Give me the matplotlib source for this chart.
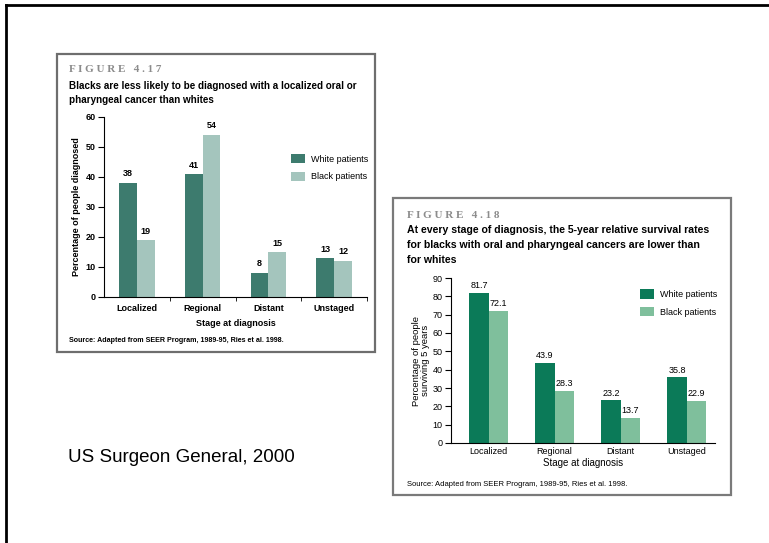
import numpy as np
import matplotlib.pyplot as plt
from matplotlib.patches import Rectangle
from matplotlib.lines import Line2D

# data
stages = ['Localized', 'Regional', 'Distant', 'Unstaged']
diag_white = [38, 41, 8, 13]
diag_black = [19, 54, 15, 12]
diag_white_lbl = ['38', '41', '8', '13']
diag_black_lbl = ['19', '54', '15', '12']
surv_white = [81.7, 43.9, 23.2, 35.8]
surv_black = [72.1, 28.3, 13.7, 22.9]

W, H = 769, 543
fig = plt.figure(figsize=(W / 100, H / 100), dpi=100)

narrow = ['Liberation Sans', 'DejaVu Sans']


def fx(x):
    return x / W


def fy(y):
    return 1 - y / H


def box(x0, y0, x1, y1, color, lw):
    fig.add_artist(Rectangle((fx(x0), fy(y1)), fx(x1) - fx(x0), fy(y0) - fy(y1),
                             transform=fig.transFigure, fill=False,
                             edgecolor=color, linewidth=lw))


# slide frame
fig.add_artist(Line2D([fx(6), fx(769)], [fy(5), fy(5)], transform=fig.transFigure,
                      color='black', lw=2))
fig.add_artist(Line2D([fx(6), fx(6)], [fy(5), fy(543)], transform=fig.transFigure,
                      color='black', lw=2))

# figure boxes
box(57, 54, 375, 352, '#6e6e6e', 1.6)
box(393, 198, 731, 495, '#7a7a7a', 1.6)


def make_axes(left, top, right, bottom):
    ax = fig.add_axes([fx(left), fy(bottom), fx(right) - fx(left), fy(top) - fy(bottom)])
    ax.spines['top'].set_visible(False)
    ax.spines['right'].set_visible(False)
    ax.patch.set_alpha(0)
    return ax


# ---- FIGURE 4.17 ----
fig.text(fx(69), fy(70), 'F I G U R E   4 . 1 7', family='Liberation Serif', weight='bold',
         color='#8c8c8c', fontsize=8, va='center')
fig.text(fx(69), fy(86), 'Blacks are less likely to be diagnosed with a localized oral or',
         family=narrow, weight='bold', fontsize=7.1, va='center')
fig.text(fx(69), fy(100), 'pharyngeal cancer than whites',
         family=narrow, weight='bold', fontsize=7.1, va='center')

ax1 = make_axes(104, 117, 367, 297)
x = np.arange(len(stages))
w1 = 0.27
b1 = ax1.bar(x - w1 / 2, diag_white, w1, color='#3d7b6e', label='White patients')
b2 = ax1.bar(x + w1 / 2, diag_black, w1, color='#a4c5bd', label='Black patients')
for r, t in zip(b1, diag_white_lbl):
    ax1.text(r.get_x() + r.get_width() / 2, r.get_height() + 1.5, t, ha='center',
             va='bottom', family=narrow, fontsize=6.5, weight='bold')
for r, t in zip(b2, diag_black_lbl):
    ax1.text(r.get_x() + r.get_width() / 2, r.get_height() + 1.5, t, ha='center',
             va='bottom', family=narrow, fontsize=6.5, weight='bold')
ax1.set_xlim(-0.5, 3.5)
ax1.set_ylim(0, 60)
ax1.set_yticks(range(0, 61, 10))
ax1.set_xticks(x)
ax1.set_xticklabels(stages)
ax1.set_xticks([0.5, 1.5, 2.5, 3.5], minor=True)
ax1.tick_params(axis='x', which='major', length=0, pad=5)
ax1.tick_params(axis='x', which='minor', length=3)
ax1.tick_params(axis='y', length=4, pad=2)
for lab in ax1.get_xticklabels() + ax1.get_yticklabels():
    lab.set_family(narrow)
    lab.set_fontsize(6.5)
    lab.set_weight('bold')
ax1.set_xlabel('Stage at diagnosis', family=narrow, fontsize=6.5, weight='bold', labelpad=4)
ax1.set_ylabel('Percentage of people diagnosed', family=narrow, fontsize=6.5,
               weight='bold', labelpad=3)
ax1.legend(loc='upper left', bbox_to_anchor=(0.68, 0.84), frameon=False,
           prop={'family': narrow, 'size': 6.5}, handlelength=1.6, handleheight=1.2,
           labelspacing=0.9, handletextpad=0.6)
fig.text(fx(69), fy(341), 'Source: Adapted from SEER Program, 1989-95, Ries et al. 1998.',
         family=narrow, fontsize=5.1, weight='bold', va='center')

# ---- FIGURE 4.18 ----
fig.text(fx(407), fy(216), 'F I G U R E   4 . 1 8', family='Liberation Serif', weight='bold',
         color='#8c8c8c', fontsize=8, va='center')
fig.text(fx(407), fy(230), 'At every stage of diagnosis, the 5-year relative survival rates',
         family=narrow, weight='bold', fontsize=7.6, va='center')
fig.text(fx(407), fy(245), 'for blacks with oral and pharyngeal cancers are lower than',
         family=narrow, weight='bold', fontsize=7.6, va='center')
fig.text(fx(407), fy(260), 'for whites',
         family=narrow, weight='bold', fontsize=7.6, va='center')

ax2 = make_axes(451, 278, 715, 443)
w2 = 0.29
c1 = ax2.bar(x - w2 / 2, surv_white, w2, color='#0b7a58', label='White patients')
c2 = ax2.bar(x + w2 / 2, surv_black, w2, color='#7fbf9c', label='Black patients')
for bars in (c1, c2):
    for r in bars:
        ax2.text(r.get_x() + r.get_width() / 2, r.get_height() + 1.5, f'{r.get_height():.1f}',
                 ha='center', va='bottom', family=narrow, fontsize=6.5)
ax2.set_xlim(-0.57, 3.43)
ax2.set_ylim(0, 90)
ax2.set_yticks(range(0, 91, 10))
ax2.set_xticks(x)
ax2.set_xticklabels(stages)
ax2.tick_params(axis='x', length=0, pad=3)
ax2.tick_params(axis='y', length=4, pad=2)
for lab in ax2.get_xticklabels() + ax2.get_yticklabels():
    lab.set_family(narrow)
    lab.set_fontsize(6.5)
ax2.set_xlabel('Stage at diagnosis', family=narrow, fontsize=7, labelpad=1)
ax2.set_ylabel('Percentage of people\nsurviving 5 years', family=narrow, fontsize=6.8,
               linespacing=0.9, labelpad=2)
ax2.legend(loc='upper left', bbox_to_anchor=(0.685, 0.98), frameon=False,
           prop={'family': narrow, 'size': 6.5}, handlelength=1.6, handleheight=1.2,
           labelspacing=0.9, handletextpad=0.6)
fig.text(fx(407), fy(485), 'Source: Adapted from SEER Program, 1989-95, Ries et al. 1998.',
         family=narrow, fontsize=5.5, va='center')

# caption
fig.text(fx(68), fy(458), 'US Surgeon General, 2000', family='Liberation Sans',
         fontsize=13.5, va='center')

fig.savefig('out.png', dpi=100)
